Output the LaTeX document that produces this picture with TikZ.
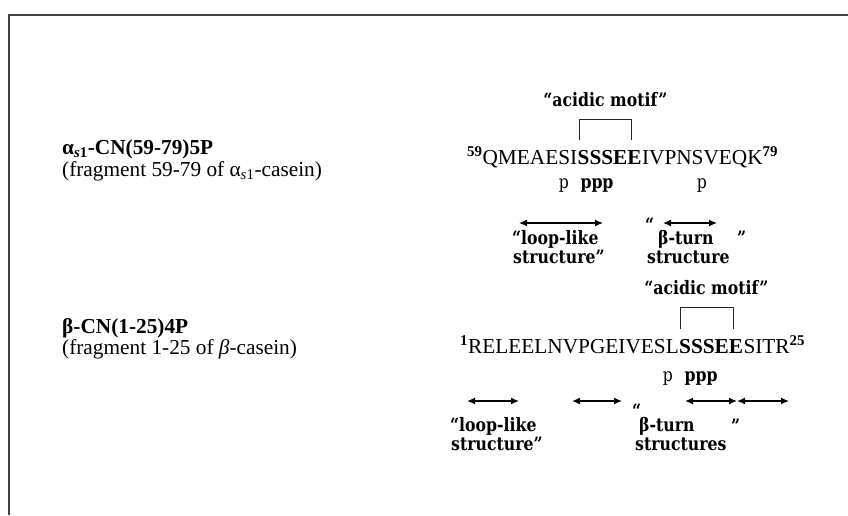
\documentclass[tikz,border=0pt]{standalone}
\usepackage{fontspec}
\setmainfont{Liberation Serif}
\newfontfamily\tagfont[FakeStretch=0.85]{DejaVu Serif}
\usetikzlibrary{positioning,arrows.meta,calc}

\begin{document}
\begin{tikzpicture}[
  x=1pt, y=-1pt,
  seq/.style={inner sep=0pt, font=\fontsize{21.3}{24}\selectfont},
  lbl/.style={inner sep=0pt, anchor=base west, font=\fontsize{21.3}{24}\selectfont},
  tag/.style={inner sep=0pt, font=\tagfont\bfseries\fontsize{18.5}{20}\selectfont},
  phos/.style={inner sep=0pt, anchor=base, font=\tagfont\fontsize{18.5}{20}\selectfont},
  span/.style={{Latex[length=8pt,width=7pt]}-{Latex[length=8pt,width=7pt]}, line width=1.3pt},
  brk/.style={line width=0.8pt, black!85},
  frame/.style={line width=1.6pt, black!75}
]
\useasboundingbox (0,0) rectangle (848,515);

% frame
\coordinate (fbl) at (9,515);
\coordinate (ftl) at (9,15);
\coordinate (ftr) at (848,15);
\draw[frame] (fbl) -- (ftl) -- (ftr);

% alpha s1 fragment
\node[lbl] (alab)  at (62,154) {\textbf{α\textsubscript{\textit{s}1}-CN(59-79)5P}};
\node[lbl] (afrag) at (62,176) {(fragment 59-79 of α\textsubscript{\textit{s}1}-casein)};

\node[seq, anchor=base west] (aseqa) at (467,164) {\textbf{\textsuperscript{59}}QMEAESI};
\node[seq, anchor=base west] (aseqb) at (aseqa.base east) {\textbf{SSSEE}};
\node[seq, anchor=base west] (aseqc) at (aseqb.base east) {IVPNSVEQK\textbf{\textsuperscript{79}}};

\coordinate (ab1) at ([xshift=2pt,yshift=10pt]aseqb.north west);
\coordinate (ab2) at ([xshift=54pt,yshift=10pt]aseqb.north west);
\draw[brk] (ab1) -- ++(0,-20) -| (ab2);
\node[tag, anchor=base] (amotif) at ($(ab1)!0.5!(ab2)+(0,-33)$) {“acidic motif”};

\node[phos] (ap1) at (564,188) {p};
\node[phos, font=\tagfont\bfseries\fontsize{18.5}{20}\selectfont] (ap2) at (597,188) {ppp};
\node[phos] (ap3) at (702,188) {p};

\node[tag, anchor=base west] (aloop1) at (512,244) {“loop-like};
\node[tag, anchor=base west] (aloop2) at (513,263) {structure”};
\node[tag, anchor=base west] (aturnq1) at (645,231) {“};
\node[tag, anchor=base west] (aturn1) at (658,244) {β-turn};
\node[tag, anchor=base west] (aturnq2) at (737,244) {”};
\node[tag, anchor=base west] (aturn2) at (647,263) {structure};

% beta fragment
\node[lbl] (blab)  at (62,333) {\textbf{β-CN(1-25)4P}};
\node[lbl] (bfrag) at (62,354) {(fragment 1-25 of \textit{β}-casein)};

\node[seq, anchor=base west] (bseqa) at (460,353) {\textbf{\textsuperscript{1}}RELEELNVPGEIVESL};
\node[seq, anchor=base west] (bseqb) at (bseqa.base east) {\textbf{SSSEE}};
\node[seq, anchor=base west] (bseqc) at (bseqb.base east) {SITR\textbf{\textsuperscript{25}}};

\coordinate (bb1) at ([xshift=1pt,yshift=10pt]bseqb.north west);
\coordinate (bb2) at ([xshift=54pt,yshift=10pt]bseqb.north west);
\draw[brk] (bb1) -- ++(0,-21) -| (bb2);
\node[tag, anchor=base] (bmotif) at ($(bb1)!0.5!(bb2)+(0,-34)$) {“acidic motif”};

\node[phos] (bp1) at (668,381) {p};
\node[phos, font=\tagfont\bfseries\fontsize{18.5}{20}\selectfont] (bp2) at (701,381) {ppp};

\node[tag, anchor=base west] (bloop1) at (450,431) {“loop-like};
\node[tag, anchor=base west] (bloop2) at (451,450) {structure”};
\node[tag, anchor=base west] (bturnq1) at (632,417) {“};
\node[tag, anchor=base west] (bturn1) at (639,431) {β-turn};
\node[tag, anchor=base west] (bturnq2) at (731,432) {”};
\node[tag, anchor=base west] (bturn2) at (635,450) {structures};

% arrows
\foreach \n/\a/\b/\y in {a1/519/603/223, a2/663/717/223,
    b1/467/519/401, b2/572/622/401, b3/685/737/401, b4/737/789/401} {
  \coordinate (\n l) at (\a,\y);
  \coordinate (\n r) at (\b,\y);
  \draw[span] (\n l) -- (\n r);
}
\end{tikzpicture}
\end{document}
